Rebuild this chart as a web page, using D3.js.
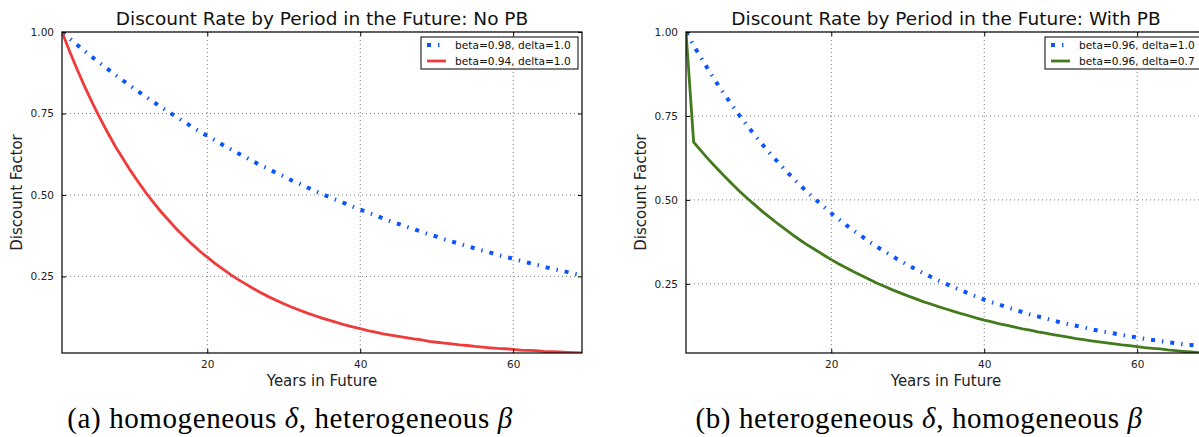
<!DOCTYPE html>
<html>
<head>
<meta charset="utf-8">
<script src="https://cdn.jsdelivr.net/npm/d3@7"></script>
<style>
  body { margin: 0; background: #fff; }
  svg { display: block; }
  .tick text { font-family: "DejaVu Sans", sans-serif; }
</style>
</head>
<body>
<svg id="chart" width="1199" height="437"></svg>
<script>
// years in future (x axis), one point per year
var years = d3.range(1, 70);

// panel (a): no present bias
var beta098 = [1.000, .980, .960, .941, .922, .904, .886, .868, .851, .834,
  .817, .801, .785, .769, .754, .739, .724, .709, .695, .681,
  .668, .654, .641, .628, .616, .603, .591, .580, .568, .557,
  .545, .535, .524, .513, .503, .493, .483, .474, .464, .455,
  .446, .437, .428, .419, .411, .403, .395, .387, .379, .372,
  .364, .357, .350, .343, .336, .329, .323, .316, .310, .304,
  .298, .292, .286, .280, .274, .269, .264, .258, .253];
var beta094 = [1.000, .940, .884, .831, .781, .734, .690, .648, .610, .573,
  .539, .506, .476, .447, .421, .395, .372, .349, .328, .309,
  .290, .273, .256, .241, .227, .213, .200, .188, .177, .166,
  .156, .147, .138, .130, .122, .115, .108, .101, .095, .090,
  .084, .079, .074, .070, .066, .062, .058, .055, .051, .048,
  .045, .043, .040, .038, .035, .033, .031, .029, .028, .026,
  .024, .023, .022, .020, .019, .018, .017, .016, .015];

// panel (b): with present bias
var delta10 = [1.000, .960, .922, .885, .849, .815, .783, .751, .721, .693,
  .665, .638, .613, .588, .565, .542, .520, .500, .480, .460,
  .442, .424, .407, .391, .375, .360, .346, .332, .319, .306,
  .294, .282, .271, .260, .250, .240, .230, .221, .212, .203,
  .195, .188, .180, .173, .166, .159, .153, .147, .141, .135,
  .130, .125, .120, .115, .110, .106, .102, .098, .094, .090,
  .086, .083, .080, .076, .073, .070, .068, .065, .062];
var delta07 = [1.000, .672, .645, .619, .595, .571, .548, .526, .505, .485,
  .465, .447, .429, .412, .395, .379, .364, .350, .336, .322,
  .309, .297, .285, .274, .263, .252, .242, .232, .223, .214,
  .206, .197, .190, .182, .175, .168, .161, .155, .148, .142,
  .137, .131, .126, .121, .116, .112, .107, .103, .099, .095,
  .091, .087, .084, .080, .077, .074, .071, .068, .066, .063,
  .060, .058, .056, .053, .051, .049, .047, .045, .044];

var xTicks = [20, 40, 60];
var yTicks = [0.25, 0.5, 0.75, 1.0];

var panels = [
  {
    left: 62, caption: "a", capX: 290,
    title: "Discount Rate by Period in the Future: No PB",
    captionText: ["homogeneous ", "δ", ", heterogeneous ", "β"],
    series: [
      { label: "beta=0.98, delta=1.0", values: beta098, color: "#0b55ff", width: 4, dash: "4,7,1.4,7" },
      { label: "beta=0.94, delta=1.0", values: beta094, color: "#ef3b3b", width: 2.8, dash: null }
    ]
  },
  {
    left: 686, caption: "b", capX: 919,
    title: "Discount Rate by Period in the Future: With PB",
    captionText: ["heterogeneous ", "δ", ", homogeneous ", "β"],
    series: [
      { label: "beta=0.96, delta=1.0", values: delta10, color: "#0b55ff", width: 4, dash: "4,7,1.4,7" },
      { label: "beta=0.96, delta=0.7", values: delta07, color: "#437a1c", width: 2.8, dash: null }
    ]
  }
];

var svg = d3.select("#chart");
var pw = 520, plotTop = 32, ph = 321;

svg.append("rect").attr("width", 1199).attr("height", 437).attr("fill", "#fff");

panels.forEach(function (p, pi) {
  var allVals = [].concat.apply([], p.series.map(function (s) { return s.values; }));
  var x = d3.scaleLinear().domain(d3.extent(years)).range([0, pw]);
  var y = d3.scaleLinear().domain([d3.min(allVals), 1]).range([ph, 0]);

  var g = svg.append("g").attr("transform", "translate(" + p.left + "," + plotTop + ")");

  g.append("clipPath").attr("id", "clip" + pi)
    .append("rect").attr("width", pw).attr("height", ph);

  // grid
  g.selectAll(".vgrid").data(xTicks).enter().append("line")
    .attr("x1", function (d) { return x(d); }).attr("x2", function (d) { return x(d); })
    .attr("y1", 0).attr("y2", ph)
    .attr("stroke", "#444").attr("stroke-width", 0.7).attr("stroke-dasharray", "1,3");
  g.selectAll(".hgrid").data(yTicks).enter().append("line")
    .attr("y1", function (d) { return y(d); }).attr("y2", function (d) { return y(d); })
    .attr("x1", 0).attr("x2", pw)
    .attr("stroke", "#444").attr("stroke-width", 0.7).attr("stroke-dasharray", "1,3");

  // lines
  var line = d3.line()
    .x(function (d, i) { return x(years[i]); })
    .y(function (d) { return y(d); });
  p.series.forEach(function (s) {
    g.append("path")
      .attr("clip-path", "url(#clip" + pi + ")")
      .attr("d", line(s.values))
      .attr("fill", "none")
      .attr("stroke", s.color)
      .attr("stroke-width", s.width)
      .attr("stroke-dasharray", s.dash);
  });

  // axes (classic inward ticks on all sides)
  var xb = g.append("g").attr("transform", "translate(0," + ph + ")")
    .call(d3.axisBottom(x).tickValues(xTicks).tickSizeInner(-4).tickSizeOuter(0).tickPadding(8));
  var xt = g.append("g")
    .call(d3.axisTop(x).tickValues(xTicks).tickSizeInner(-4).tickSizeOuter(0).tickFormat(""));
  var yl = g.append("g")
    .call(d3.axisLeft(y).tickValues(yTicks).tickSizeInner(-4).tickSizeOuter(0).tickPadding(8)
      .tickFormat(d3.format(".2f")));
  var yr = g.append("g").attr("transform", "translate(" + pw + ",0)")
    .call(d3.axisRight(y).tickValues(yTicks).tickSizeInner(-4).tickSizeOuter(0).tickFormat(""));
  [xb, xt, yl, yr].forEach(function (a) {
    a.select(".domain").remove();
    a.selectAll(".tick line").attr("stroke", "#000");
    a.selectAll(".tick text").attr("font-size", 10.5).attr("fill", "#222");
  });

  g.append("rect").attr("width", pw).attr("height", ph)
    .attr("fill", "none").attr("stroke", "#000").attr("stroke-width", 1.2);

  // title and axis labels
  g.append("text").attr("x", pw / 2).attr("y", -7)
    .attr("text-anchor", "middle")
    .attr("font-family", "DejaVu Sans, sans-serif").attr("font-size", 18.5)
    .attr("fill", "#111").text(p.title);
  g.append("text").attr("x", pw / 2).attr("y", ph + 33)
    .attr("text-anchor", "middle")
    .attr("font-family", "DejaVu Sans, sans-serif").attr("font-size", 15)
    .attr("fill", "#222").text("Years in Future");
  g.append("text")
    .attr("transform", "translate(-40," + (ph / 2) + ") rotate(-90)")
    .attr("text-anchor", "middle")
    .attr("font-family", "DejaVu Sans, sans-serif").attr("font-size", 15)
    .attr("fill", "#222").text("Discount Factor");

  // legend
  var lw = 157, lh = 32;
  var lg = g.append("g").attr("transform", "translate(" + (pw - 4 - lw) + ",5)");
  lg.append("rect").attr("width", lw).attr("height", lh)
    .attr("fill", "#fff").attr("stroke", "#000").attr("stroke-width", 1);
  p.series.forEach(function (s, i) {
    var ly = 8 + i * 16;
    lg.append("line").attr("x1", 6).attr("x2", 25).attr("y1", ly).attr("y2", ly)
      .attr("stroke", s.color).attr("stroke-width", s.width)
      .attr("stroke-dasharray", s.dash);
    lg.append("text").attr("x", 34).attr("y", ly + 3.7)
      .attr("font-family", "DejaVu Sans, sans-serif").attr("font-size", 10.6)
      .attr("fill", "#111").text(s.label);
  });

  // caption
  var cap = svg.append("text")
    .attr("x", p.capX).attr("y", 428)
    .attr("text-anchor", "middle")
    .attr("font-family", "Liberation Serif, DejaVu Serif, serif").attr("font-size", 29)
    .attr("letter-spacing", 0.6)
    .attr("fill", "#000");
  cap.append("tspan").text("(" + p.caption + ") ");
  p.captionText.forEach(function (t, i) {
    cap.append("tspan").attr("font-style", i % 2 ? "italic" : null).text(t);
  });
});
</script>
</body>
</html>
